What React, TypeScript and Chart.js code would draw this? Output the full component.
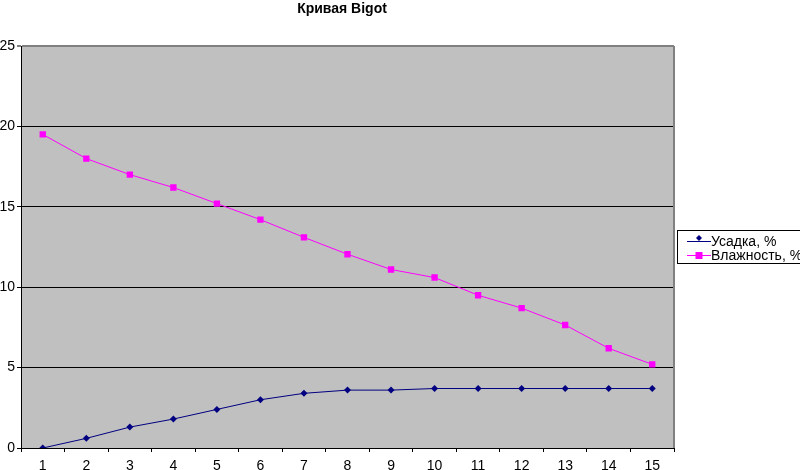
import React, { useEffect, useRef } from "react";
import { Chart, registerables, Plugin } from "chart.js";

Chart.register(...registerables);

const categories = ["1", "2", "3", "4", "5", "6", "7", "8", "9", "10", "11", "12", "13", "14", "15"];
const shrinkage = [0, 0.6, 1.3, 1.8, 2.4, 3.0, 3.4, 3.6, 3.6, 3.7, 3.7, 3.7, 3.7, 3.7, 3.7];
const moisture = [19.5, 18.0, 17.0, 16.2, 15.2, 14.2, 13.1, 12.05, 11.1, 10.6, 9.5, 8.7, 7.65, 6.2, 5.2];
const seriesNames = ["Усадка, %", "Влажность, %"];
const chartTitle = "Кривая Bigot";

const FONT = "'Liberation Sans', Arial, sans-serif";

// grey plot area, title above it and an Excel-like legend box on the right
const excelLook: Plugin<"line"> = {
  id: "excelLook",
  beforeDraw(chart) {
    const { ctx, chartArea } = chart;
    ctx.save();
    ctx.fillStyle = "#c0c0c0";
    ctx.fillRect(chartArea.left, chartArea.top, chartArea.right - chartArea.left, chartArea.bottom - chartArea.top);
    ctx.restore();
  },
  afterDraw(chart) {
    const { ctx, chartArea } = chart;
    ctx.save();
    // right border of plot
    ctx.strokeStyle = "#808080";
    ctx.lineWidth = 2;
    ctx.beginPath();
    ctx.moveTo(chartArea.right, chartArea.top);
    ctx.lineTo(chartArea.right, chartArea.bottom);
    ctx.stroke();

    // title
    ctx.fillStyle = "#000";
    ctx.font = `bold 14px ${FONT}`;
    ctx.textAlign = "center";
    ctx.textBaseline = "middle";
    ctx.fillText(chartTitle, 342, 9);

    // legend
    ctx.fillStyle = "#fff";
    ctx.fillRect(677.5, 230.5, 130, 33);
    ctx.strokeStyle = "#000";
    ctx.lineWidth = 1;
    ctx.strokeRect(677.5, 230.5, 130, 33);

    const rows = [
      { y: 241, color: "#000080", marker: "diamond" },
      { y: 255, color: "#ff00ff", marker: "square" },
    ];
    rows.forEach((r, i) => {
      ctx.strokeStyle = r.color;
      ctx.lineWidth = 1;
      ctx.beginPath();
      ctx.moveTo(687, r.y + 0.5);
      ctx.lineTo(711, r.y + 0.5);
      ctx.stroke();
      ctx.fillStyle = r.color;
      if (r.marker === "square") {
        ctx.fillRect(695.5, r.y - 3, 7, 7);
      } else {
        ctx.beginPath();
        ctx.moveTo(699, r.y - 6);
        ctx.lineTo(702, r.y - 3);
        ctx.lineTo(699, r.y);
        ctx.lineTo(696, r.y - 3);
        ctx.closePath();
        ctx.fill();
      }
      ctx.fillStyle = "#000";
      ctx.font = `14px ${FONT}`;
      ctx.textAlign = "left";
      ctx.textBaseline = "middle";
      ctx.fillText(seriesNames[i], 711, r.y + 1);
    });
    ctx.restore();
  },
};

const App: React.FC = () => {
  const canvasRef = useRef<HTMLCanvasElement | null>(null);
  const chartRef = useRef<Chart<"line"> | null>(null);

  useEffect(() => {
    if (!canvasRef.current) return;
    const ctx = canvasRef.current.getContext("2d");
    if (!ctx) return;
    if (chartRef.current) chartRef.current.destroy();

    chartRef.current = new Chart(ctx, {
      type: "line",
      data: {
        labels: categories,
        datasets: [
          {
            label: seriesNames[0],
            data: shrinkage,
            borderColor: "#000080",
            backgroundColor: "#000080",
            borderWidth: 1,
            pointStyle: "rectRot",
            pointRadius: 3.5,
            pointBorderWidth: 0,
            tension: 0,
          },
          {
            label: seriesNames[1],
            data: moisture,
            borderColor: "#ff00ff",
            backgroundColor: "#ff00ff",
            borderWidth: 1,
            pointStyle: "rect",
            pointRadius: 4.5,
            pointBorderWidth: 0,
            tension: 0,
          },
        ],
      },
      options: {
        animation: false,
        responsive: false,
        layout: { padding: { top: 46, right: 126, left: 0, bottom: 0 } },
        plugins: {
          legend: { display: false },
          title: { display: false },
          tooltip: { enabled: false },
        },
        scales: {
          x: {
            offset: true,
            afterFit: (scale) => {
              scale.height = 22;
            },
            grid: {
              offset: true,
              drawOnChartArea: false,
              drawTicks: true,
              tickLength: 4,
              color: "#000",
            },
            border: { color: "#000", width: 1 },
            ticks: {
              color: "#000",
              font: { family: FONT, size: 14 },
              padding: 6,
              maxRotation: 0,
            },
          },
          y: {
            min: 0,
            max: 25,
            afterFit: (scale) => {
              scale.width = 21;
            },
            grid: {
              color: (c) => (c.tick && c.tick.value === 25 ? "#808080" : "#000"),
              lineWidth: (c) => (c.tick && c.tick.value === 25 ? 2 : 1),
              tickLength: 4,
            },
            border: { color: "#000", width: 1 },
            ticks: {
              stepSize: 5,
              color: "#000",
              font: { family: FONT, size: 14 },
              padding: 2,
            },
          },
        },
      },
      plugins: [excelLook],
    });

    return () => {
      if (chartRef.current) {
        chartRef.current.destroy();
        chartRef.current = null;
      }
    };
  }, []);

  return (
    <div style={{ position: "fixed", left: 0, top: 0, width: 800, height: 470, background: "#fff" }}>
      <canvas ref={canvasRef} width={800} height={470} style={{ width: 800, height: 470 }}></canvas>
    </div>
  );
};

export default App;
